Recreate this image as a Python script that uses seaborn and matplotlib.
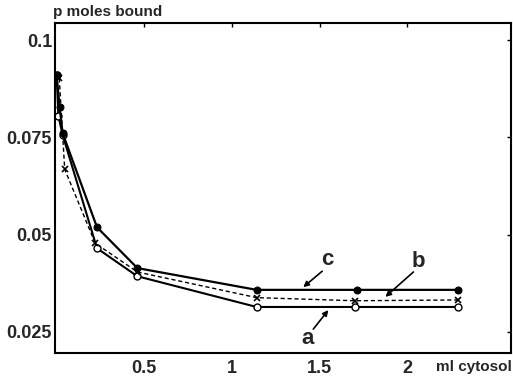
import matplotlib
matplotlib.use("Agg")
import matplotlib.pyplot as plt
import seaborn as sns
import pandas as pd

# Data
x_a = [0.0, 0.01, 0.035, 0.23, 0.46, 1.14, 1.70, 2.29]
y_a = [0.091, 0.0805, 0.0755, 0.0465, 0.0393, 0.0314, 0.0314, 0.0314]

x_b = [0.015, 0.046, 0.22, 0.46, 1.14, 1.70, 2.29]
y_b = [0.0902, 0.0668, 0.0478, 0.0404, 0.0338, 0.0330, 0.0332]

x_c = [0.0, 0.017, 0.034, 0.23, 0.46, 1.14, 1.71, 2.29]
y_c = [0.091, 0.0828, 0.0761, 0.0519, 0.0414, 0.0358, 0.0358, 0.0358]

x_ticks = [0.5, 1, 1.5, 2]
x_tick_labels = ["0.5", "1", "1.5", "2"]
y_ticks = [0.025, 0.05, 0.075, 0.1]
y_tick_labels = ["0.025", "0.05", "0.075", "0.1"]

sns.set_style("white")
plt.rcParams['font.family'] = ['Liberation Sans', 'DejaVu Sans']

fig = plt.figure(figsize=(5.13, 3.79), dpi=100)
ax = fig.add_axes([0.107, 0.069, 0.889, 0.870])

df_a = pd.DataFrame({"x": x_a, "y": y_a})
df_b = pd.DataFrame({"x": x_b, "y": y_b})
df_c = pd.DataFrame({"x": x_c, "y": y_c})

sns.lineplot(data=df_a, x="x", y="y", ax=ax, sort=False, color="black", lw=1.5,
             marker="o", markersize=5, markerfacecolor="white",
             markeredgecolor="black", markeredgewidth=1.0)
sns.lineplot(data=df_b, x="x", y="y", ax=ax, sort=False, color="black", lw=1.0,
             linestyle=(0, (3, 2)), marker="x", markersize=5,
             markeredgecolor="black", markeredgewidth=1.2)
sns.lineplot(data=df_c, x="x", y="y", ax=ax, sort=False, color="black", lw=1.6,
             marker="o", markersize=5, markerfacecolor="black",
             markeredgecolor="black")

ax.set_xlim(-0.01, 2.59)
ax.set_ylim(0.0196, 0.1044)
ax.set_xticks(x_ticks)
ax.set_xticklabels(x_tick_labels, fontsize=13, fontweight="bold")
ax.set_yticks(y_ticks)
ax.set_yticklabels(y_tick_labels, fontsize=13, fontweight="bold")
ax.tick_params(axis="both", direction="in", length=3, width=1, color="black",
               pad=2, top=True, right=True)
ax.tick_params(axis="x", pad=5)
for s in ax.spines.values():
    s.set_visible(True)
    s.set_color("black")
    s.set_linewidth(1.5)
ax.set_xlabel("")
ax.set_ylabel("")

fig.text(53 / 513, 1 - 12 / 379, "p moles bound", fontsize=11, fontweight="bold",
         ha="left", va="center")
fig.text(512 / 513, 1 - 367 / 379, "ml cytosol", fontsize=11, fontweight="bold",
         ha="right", va="center")

arrow = dict(arrowstyle="-|>", color="black", lw=1.2, mutation_scale=8,
             shrinkA=0, shrinkB=0)
ax.annotate("", xy=(1.406, 0.0365), xytext=(1.514, 0.0406), arrowprops=arrow)
ax.text(1.543, 0.0437, "c", fontsize=16, fontweight="bold", ha="center", va="center")
ax.annotate("", xy=(1.874, 0.0340), xytext=(2.034, 0.0404), arrowprops=arrow)
ax.text(2.063, 0.0432, "b", fontsize=16, fontweight="bold", ha="center", va="center")
ax.annotate("", xy=(1.549, 0.0306), xytext=(1.463, 0.0257), arrowprops=arrow)
ax.text(1.429, 0.0232, "a", fontsize=16, fontweight="bold", ha="center", va="center")

fig.savefig("out.png", dpi=100)
